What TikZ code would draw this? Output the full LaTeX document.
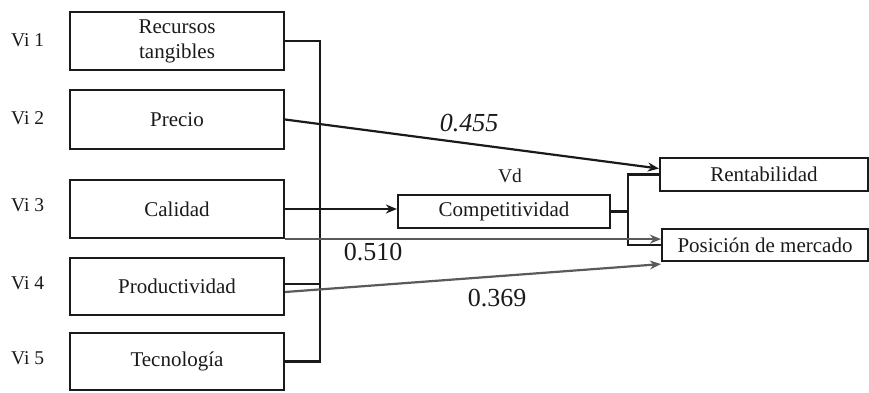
\documentclass[tikz,border=0pt]{standalone}
\usepackage{fontspec}
\setmainfont{Liberation Serif}
\usetikzlibrary{arrows.meta,calc}
\definecolor{ink}{HTML}{1A1A1A}
\definecolor{greyline}{HTML}{5A5A5A}
\tikzset{
  var/.style={draw=ink, line width=2.2pt, inner sep=0pt, align=center,
    font=\fontsize{21}{25}\selectfont, text=ink},
  lbl/.style={font=\fontsize{19.5}{22}\selectfont, text=ink, inner sep=0pt},
  coef/.style={font=\fontsize{26}{28}\selectfont, text=ink, inner sep=0pt},
  link/.style={draw=ink, line width=2.2pt},
  glink/.style={draw=greyline, line width=2.2pt},
  tip/.style={-{Stealth[length=11pt,width=9pt]}}
}
\begin{document}
\begin{tikzpicture}[x=1pt,y=-1pt]
\useasboundingbox (0,0) rectangle (869,392);

% independent variables
\node[var, minimum width=214pt, minimum height=58pt] (b1) at (177,41) {Recursos\\tangibles};
\node[var, minimum width=214pt, minimum height=59pt] (b2) at (177,119.5) {Precio};
\node[var, minimum width=214pt, minimum height=58pt] (b3) at (177,209) {Calidad};
\node[var, minimum width=214pt, minimum height=57pt] (b4) at (177,286.5) {Productividad};
\node[var, minimum width=214pt, minimum height=57pt] (b5) at (177,361.5) {Tecnología};

\node[lbl, anchor=west] (v1) at (11,40) {Vi 1};
\node[lbl, anchor=west] (v2) at (11,118) {Vi 2};
\node[lbl, anchor=west] (v3) at (11,205) {Vi 3};
\node[lbl, anchor=west] (v4) at (11,283) {Vi 4};
\node[lbl, anchor=west] (v5) at (11,358) {Vi 5};

% mediator and outcomes
\node[var, minimum width=212pt, minimum height=33pt] (comp) at (504,211.5) {Competitividad};
\node[lbl] (vd) at (510,176) {Vd};
\node[var, minimum width=208pt, minimum height=33pt] (rent) at (764,174.5) {Rentabilidad};
\node[var, minimum width=206pt, minimum height=32pt] (pos) at (765,245) {Posición de mercado};

% bus joining the five inputs
\coordinate (busx) at (320,0);
\draw[link] (b1.east) -- (b1.east -| busx) -- (b5.east -| busx) -- (b5.east);
\draw[link] ([yshift=2.5pt]b4.east) -- ([yshift=2.5pt]b4.east -| busx);

% inputs to competitiveness
\draw[link, tip] (b3.east) -- (b3.east -| comp.west);

% bracket to the outcomes
\coordinate (brk) at (628,211.5);
\draw[link] (comp.east) -- (brk);
\draw[link] (rent.west) -| (brk) |- (pos.west);

% direct effects
\draw[link, tip] (b2.east) -- ([yshift=6pt]rent.west);
\draw[glink, tip] (b3.south east) -- (b3.south east -| pos.west);
\draw[glink, tip] ([yshift=-5.5pt]b4.east) -- ([yshift=-2pt]pos.south west);

\node[coef, font=\fontsize{26}{28}\selectfont\itshape] (c1) at (469,123) {0.455};
\node[coef] (c2) at (373,252) {0.510};
\node[coef] (c3) at (497,298) {0.369};
\end{tikzpicture}
\end{document}
